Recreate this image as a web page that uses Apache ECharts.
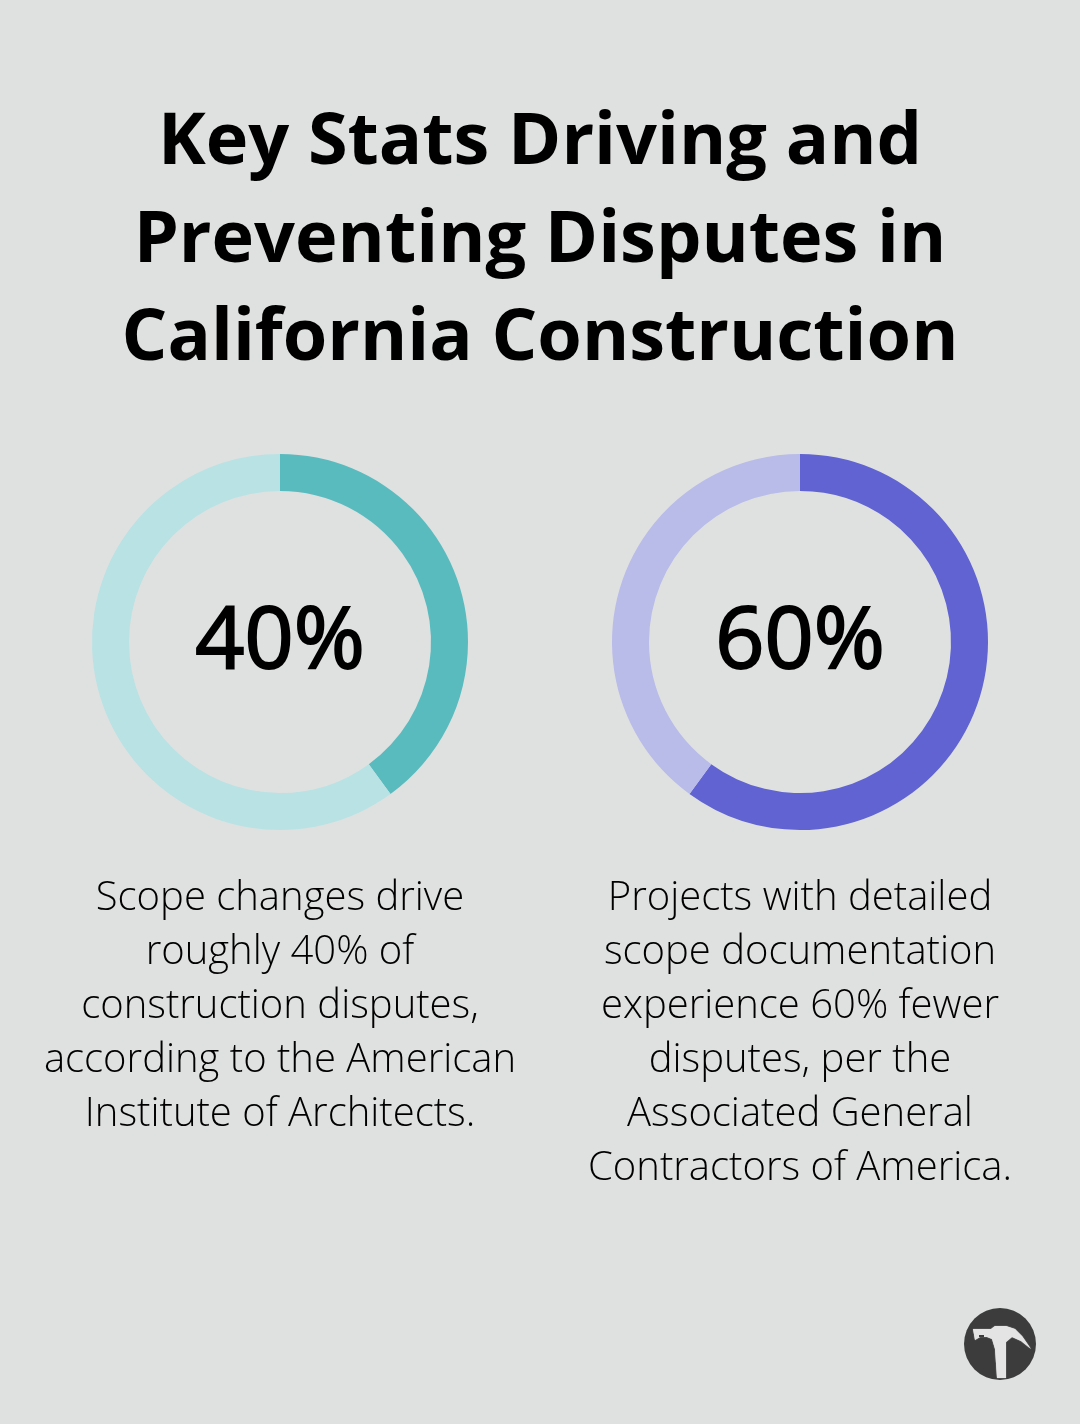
<!DOCTYPE html>
<html>
<head>
<meta charset="utf-8">
<style>html,body{margin:0;padding:0;background:#dfe1e0}#c{width:1080px;height:1424px}</style>
<script src="https://cdn.jsdelivr.net/npm/echarts@6/dist/echarts.min.js"></script>
</head>
<body>
<div id="c"></div>
<script>
const titleLines = ['Key Stats Driving and', 'Preventing Disputes in', 'California Construction'];
const percents = [40, 60];
const ringNames = ['Scope changes', 'Detailed documentation'];
const ringColors = [['#5abbbf', '#b9e2e4'], ['#6063d1', '#b9bbe9']];
const captionLeft = ['Scope changes drive', 'roughly 40% of', 'construction disputes,', 'according to the American', 'Institute of Architects.'];
const captionRight = ['Projects with detailed', 'scope documentation', 'experience 60% fewer', 'disputes, per the', 'Associated General', 'Contractors of America.'];
const FONT = '"Open Sans", sans-serif';

const chart = echarts.init(document.getElementById('c'), null, {renderer: 'canvas'});

function textBlock(lines, cx, firstY, step, size, weight, strokeWidth) {
  return lines.map((t, i) => ({
    type: 'text',
    x: cx, y: firstY + i * step,
    style: {
      text: t, fill: '#000', font: weight + ' ' + size + 'px ' + FONT,
      textAlign: 'center', textVerticalAlign: 'middle',
      stroke: strokeWidth ? '#000' : null, lineWidth: strokeWidth || 0
    }
  }));
}

function ring(value, name, colors, cx) {
  return {
    type: 'pie', silent: true, animation: false,
    center: [cx, 642], radius: [151, 188],
    startAngle: 90, clockwise: true,
    label: {show: false}, labelLine: {show: false},
    data: [
      {name: name, value: value, itemStyle: {color: colors[0]}},
      {name: 'Other', value: 100 - value, itemStyle: {color: colors[1]}}
    ]
  };
}

chart.setOption({
  backgroundColor: '#dfe1e0',
  series: [
    ring(percents[0], ringNames[0], ringColors[0], 280),
    ring(percents[1], ringNames[1], ringColors[1], 800)
  ],
  graphic: {elements: [
    ...textBlock(titleLines, 540, 143, 98, 72, 700),
    ...textBlock([percents[0] + '%'], 280, 643, 0, 86, 400, 2),
    ...textBlock([percents[1] + '%'], 800, 643, 0, 86, 400, 2),
    ...textBlock(captionLeft, 280, 899, 54, 40, 300),
    ...textBlock(captionRight, 800, 899, 54, 40, 300),
    // hammer badge
    {type: 'circle', shape: {cx: 1000, cy: 1344, r: 36}, style: {fill: '#3c3c3c'}},
    {type: 'polygon', shape: {points: [[973,1329],[991,1329],[995,1326],[1006,1326],[1015,1329],[1022,1336],[1031,1349],[1021,1341],[1012,1337],[1006,1342],[1006,1378],[997,1378],[995,1349],[992,1339],[987,1337],[980,1337],[975,1340]]}, style: {fill: '#e4e4e4', shadowBlur: 1, shadowColor: '#e4e4e4'}},
    {type: 'rect', shape: {x: 979, y: 1335, width: 5, height: 2}, style: {fill: '#3c3c3c'}}
  ]}
});
</script>
</body>
</html>
